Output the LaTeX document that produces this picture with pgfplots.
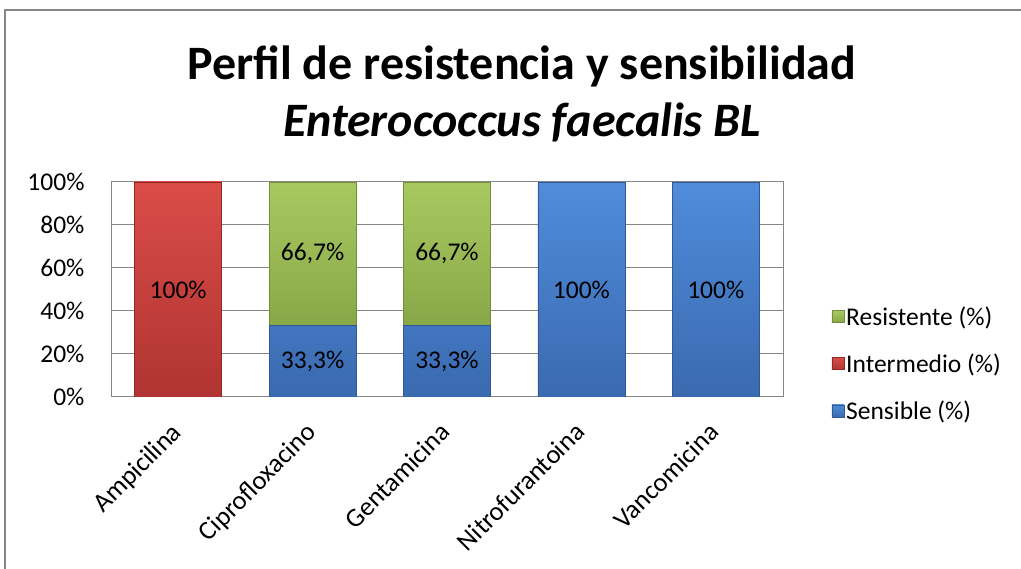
\documentclass[border=0pt]{standalone}
\usepackage{pgfplots}
\pgfplotsset{compat=1.18}
\usepackage{fontspec}
\setmainfont{Carlito}
\definecolor{redT}{RGB}{218,76,72}
\definecolor{redB}{RGB}{176,52,50}
\definecolor{redD}{RGB}{145,40,38}
\definecolor{grnT}{RGB}{168,201,96}
\definecolor{grnB}{RGB}{136,168,72}
\definecolor{grnD}{RGB}{115,142,58}
\definecolor{bluT}{RGB}{80,140,218}
\definecolor{bluB}{RGB}{58,106,176}
\definecolor{bluD}{RGB}{48,88,148}
\definecolor{gridc}{RGB}{134,134,134}
\pgfplotstableread{
x y lab
0 50 100\%
1 16.65 33,3\%
1 66.65 66,7\%
2 16.65 33,3\%
2 66.65 66,7\%
3 50 100\%
4 50 100\%
}\labtable
\begin{document}
\begin{tikzpicture}[x=1pt,y=1pt]
\path[use as bounding box,fill=white] (0,0) rectangle (1021,569);
\draw[gridc,line width=1.2pt] (5,0) -- (5,559) -- (1021,559);
\node[font=\fontsize{48}{56}\selectfont\bfseries] at (522,489) [anchor=base] {Perfil de resistencia y sensibilidad};
\node[font=\fontsize{48}{56}\selectfont\bfseries\itshape] at (522,432) [anchor=base] {Enterococcus faecalis BL};
\begin{axis}[
  at={(111pt,172pt)}, anchor=south west,
  scale only axis, width=672pt, height=215pt,
  ybar stacked, bar width=87pt,
  xmin=-0.5, xmax=4.5, ymin=0, ymax=100,
  enlargelimits=false,
  xtick={0,1,2,3,4},
  xticklabels={Ampicilina,Ciprofloxacino,Gentamicina,Nitrofurantoina,Vancomicina},
  x tick label style={rotate=45, anchor=north east, font=\fontsize{26.5}{30}\selectfont, xshift=-19.3pt, yshift=-7.7pt},
  ytick={0,20,40,60,80,100},
  yticklabels={0\%,20\%,40\%,60\%,80\%,100\%},
  y tick label style={font=\fontsize{25.5}{30}\selectfont, xshift=-23pt},
  ymajorgrids, grid style={gridc, line width=1pt},
  axis line style={gridc, line width=1pt},
  major tick length=0pt,
  legend style={at={(1.072,0.155)}, anchor=west, draw=none, fill=none,
    font=\fontsize{25.5}{30}\selectfont, row sep=23pt, inner sep=0pt,
    cells={anchor=west}},
  legend cell align=left,
  reverse legend,
  legend image code/.code={\draw[#1,line width=0.6pt] (0pt,-6pt) rectangle (12pt,6pt);},
]
\addplot[draw=bluD, top color=bluT, bottom color=bluB, line width=0.8pt] coordinates {(0,0) (1,33.3) (2,33.3) (3,100) (4,100)};
\addplot[draw=redD, top color=redT, bottom color=redB, line width=0.8pt] coordinates {(0,100) (1,0) (2,0) (3,0) (4,0)};
\addplot[draw=grnD, top color=grnT, bottom color=grnB, line width=0.8pt] coordinates {(0,0) (1,66.7) (2,66.7) (3,0) (4,0)};
\legend{Sensible (\%),Intermedio (\%),Resistente (\%)}
\end{axis}
\begin{axis}[
  at={(111pt,172pt)}, anchor=south west,
  scale only axis, width=672pt, height=215pt,
  xmin=-0.5, xmax=4.5, ymin=0, ymax=100,
  hide axis, clip=false,
]
\addplot[only marks, mark=none, nodes near coords, point meta=explicit symbolic,
  every node near coord/.style={anchor=center, font=\fontsize{25.5}{30}\selectfont, text=black}]
  table[x=x, y=y, meta=lab] {\labtable};
\end{axis}
\end{tikzpicture}
\end{document}
